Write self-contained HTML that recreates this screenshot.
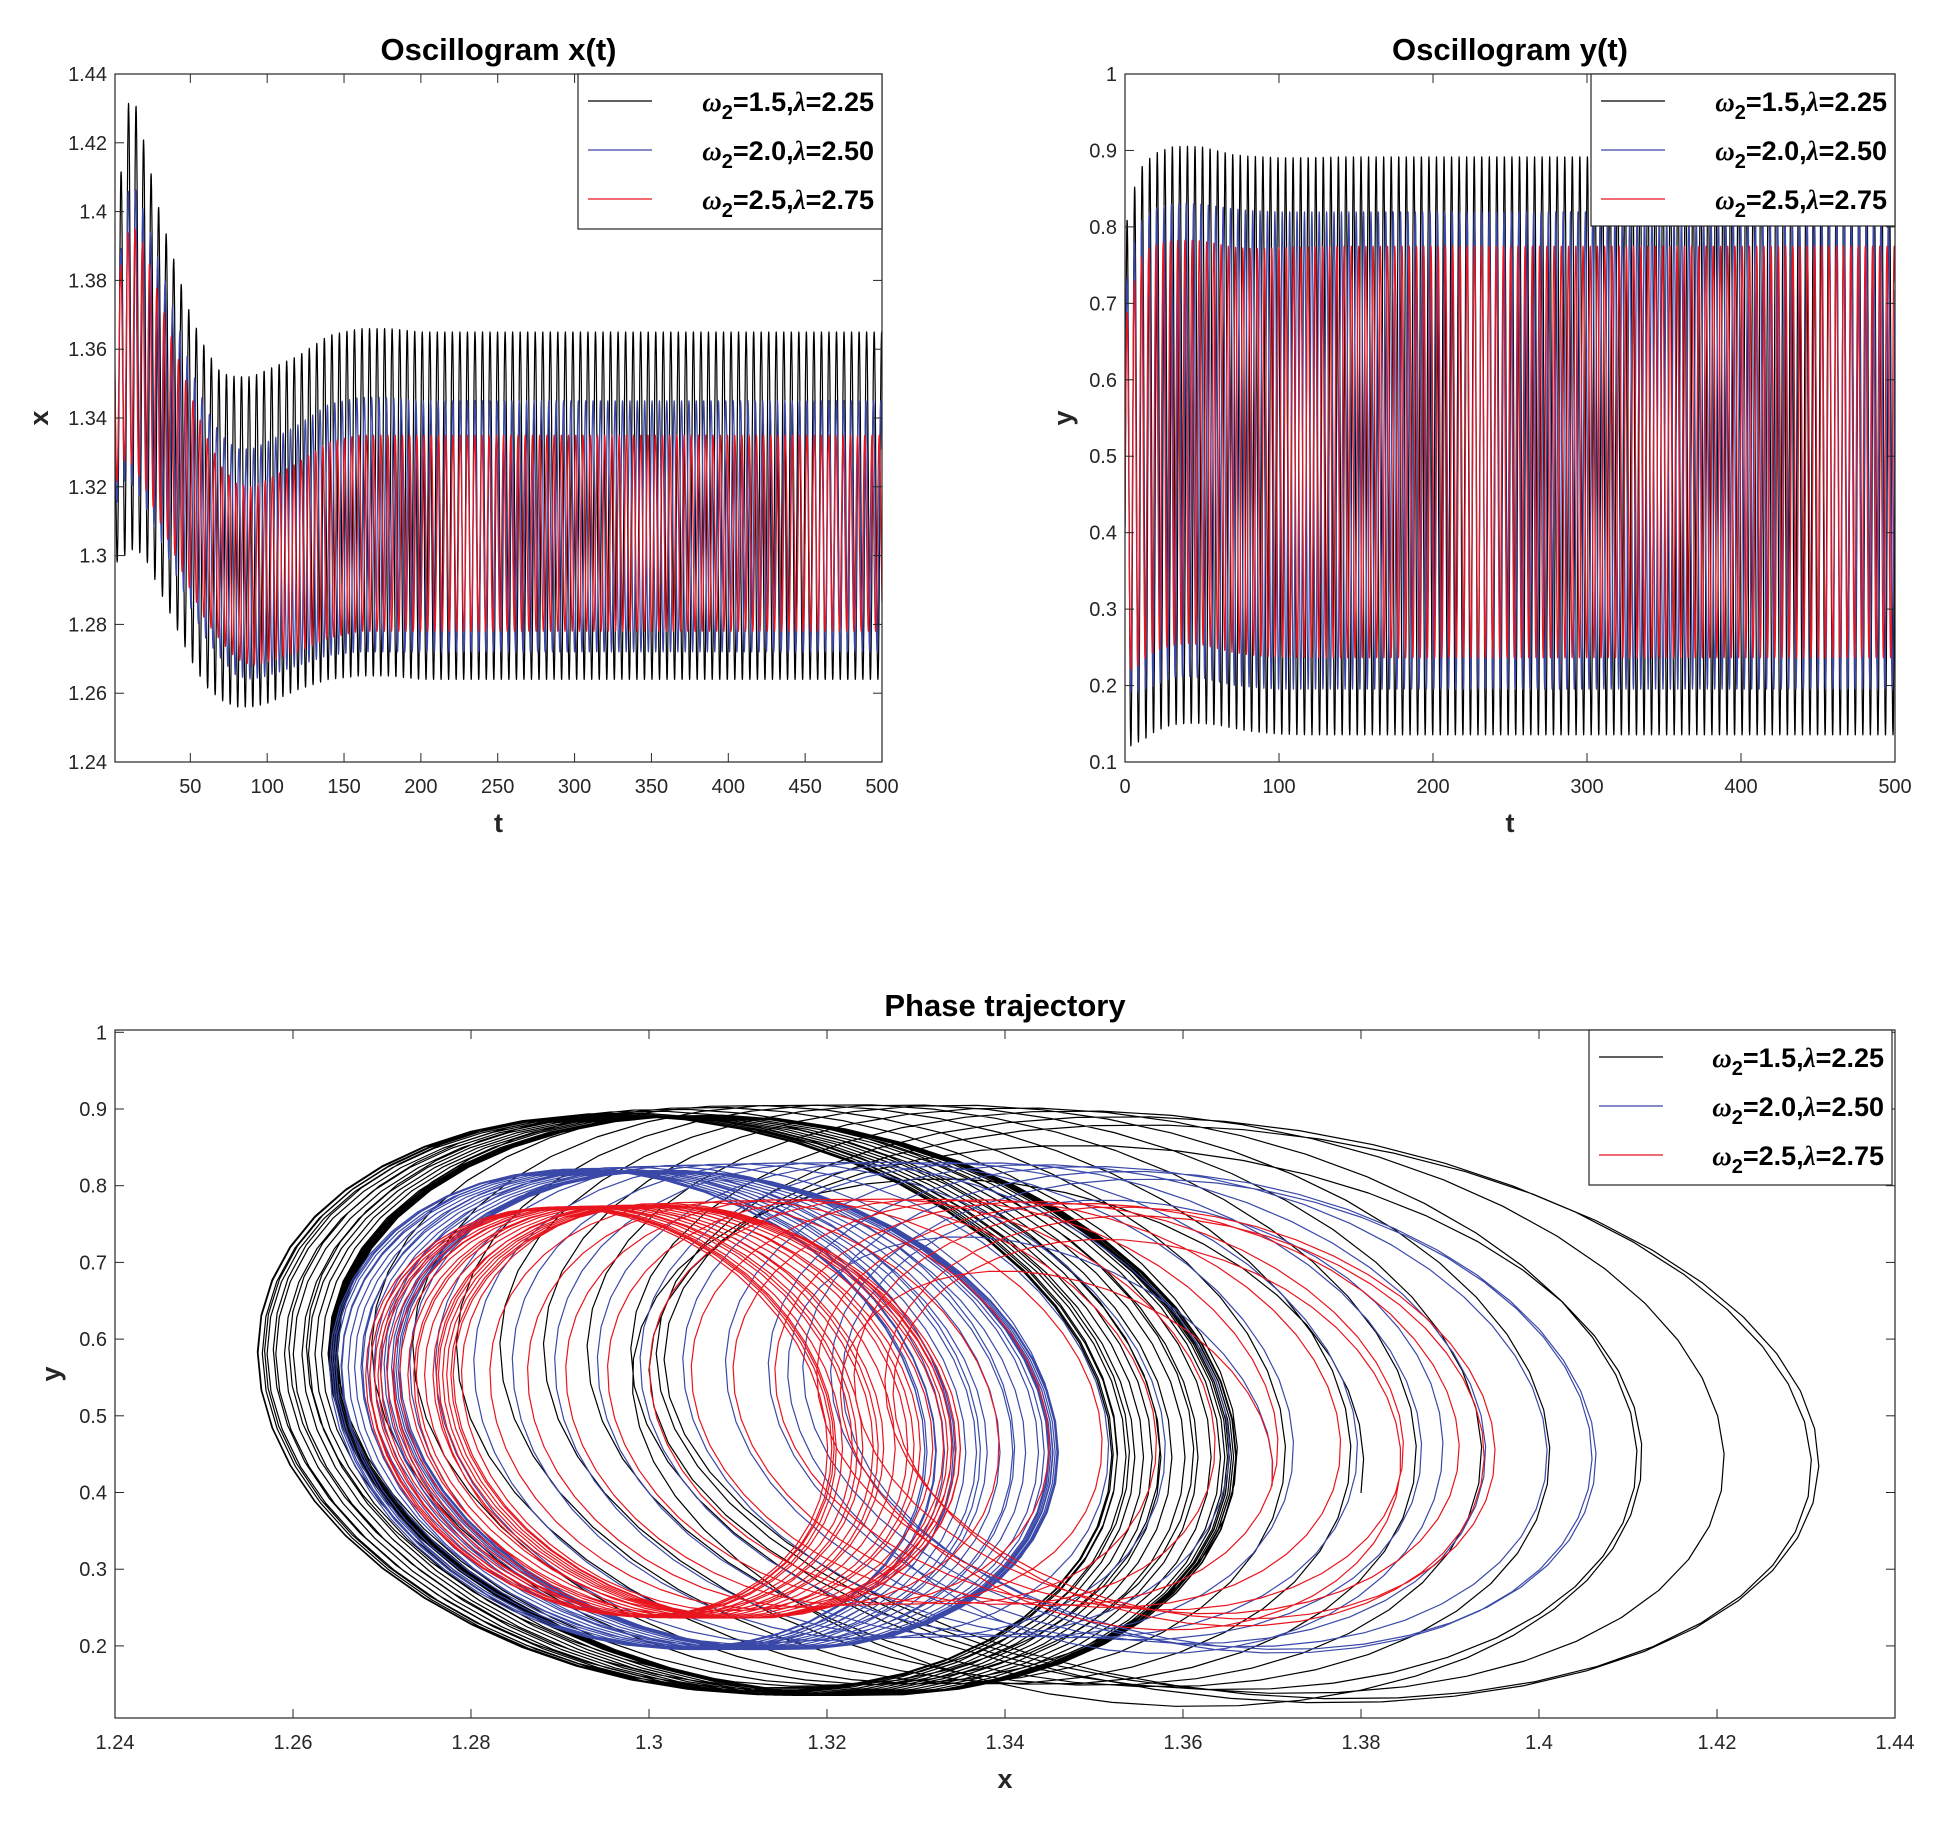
<!DOCTYPE html>
<html><head><meta charset="utf-8"><style>
html,body{margin:0;padding:0;background:#fff}
svg text{font-family:"Liberation Sans",sans-serif}
.tk{font-size:20px;fill:#262626}
.ttl{font-size:31px;font-weight:bold;fill:#000}
.lab{font-size:27px;font-weight:bold;fill:#262626}
.lg{font-size:27px;font-weight:bold;fill:#000}
</style></head><body>
<svg id="fig" width="1942" height="1819" viewBox="0 0 1942 1819" xmlns="http://www.w3.org/2000/svg"></svg>
<script>
const tKnots=[0,3,8,13,20,30,40,50,60,70,80,90,100,120,140,160,180,200,250,500];
const blackXHi=[1.38,1.40,1.43,1.434,1.42,1.40,1.385,1.37,1.36,1.353,1.352,1.352,1.354,1.358,1.364,1.366,1.366,1.365,1.365,1.365];
const blackXLo=[1.29,1.30,1.30,1.302,1.30,1.29,1.28,1.27,1.262,1.258,1.256,1.256,1.257,1.261,1.264,1.265,1.265,1.264,1.264,1.264];
const blueXHi=[1.37,1.38,1.405,1.408,1.40,1.385,1.37,1.355,1.343,1.335,1.331,1.331,1.333,1.338,1.344,1.346,1.346,1.345,1.345,1.345];
const blueXLo=[1.30,1.32,1.322,1.32,1.315,1.305,1.295,1.285,1.276,1.27,1.265,1.264,1.265,1.268,1.271,1.272,1.272,1.272,1.272,1.272];
const redXHi=[1.37,1.38,1.393,1.396,1.39,1.375,1.36,1.347,1.335,1.326,1.321,1.32,1.322,1.327,1.333,1.335,1.335,1.335,1.335,1.335];
const redXLo=[1.31,1.325,1.328,1.326,1.32,1.31,1.30,1.29,1.281,1.275,1.27,1.268,1.269,1.272,1.276,1.278,1.278,1.278,1.278,1.278];
const blackYHi=[0.8,0.82,0.87,0.885,0.897,0.905,0.906,0.905,0.9,0.895,0.893,0.892,0.891,0.891,0.892,0.892,0.892,0.892,0.892,0.892];
const blackYLo=[0.12,0.12,0.125,0.13,0.14,0.148,0.15,0.15,0.148,0.144,0.14,0.138,0.136,0.135,0.135,0.135,0.135,0.135,0.135,0.135];
const blueYHi=[0.72,0.75,0.8,0.815,0.825,0.83,0.831,0.83,0.827,0.824,0.822,0.821,0.82,0.82,0.82,0.82,0.82,0.82,0.82,0.82];
const blueYLo=[0.19,0.19,0.19,0.195,0.2,0.21,0.212,0.21,0.205,0.2,0.198,0.196,0.195,0.195,0.195,0.195,0.195,0.195,0.195,0.195];
const redYHi=[0.68,0.7,0.75,0.77,0.777,0.782,0.783,0.782,0.778,0.774,0.772,0.772,0.773,0.774,0.775,0.775,0.775,0.775,0.775,0.775];
const redYLo=[0.22,0.22,0.225,0.235,0.245,0.252,0.255,0.253,0.248,0.243,0.24,0.238,0.237,0.236,0.236,0.236,0.236,0.236,0.236,0.236];
const periods=[4.9,4.8,4.7];
const seriesNames=["black","blue","red"];
const seriesColors=["#000000","#3a48a8","#e8141e"];
const legendParams=[["1.5","2.25"],["2.0","2.50"],["2.5","2.75"]];
const ticksX1=[50,100,150,200,250,300,350,400,450,500];
const ticksY1=[1.24,1.26,1.28,1.3,1.32,1.34,1.36,1.38,1.4,1.42,1.44];
const ticksX2=[0,100,200,300,400,500];
const ticksY2=[0.1,0.2,0.3,0.4,0.5,0.6,0.7,0.8,0.9,1];
const ticksX3=[1.24,1.26,1.28,1.3,1.32,1.34,1.36,1.38,1.4,1.42,1.44];
const ticksY3=[0.2,0.3,0.4,0.5,0.6,0.7,0.8,0.9,1];

const NS="http://www.w3.org/2000/svg";
const svg=document.getElementById('fig');
function mk(tag,attrs,parent){const e=document.createElementNS(NS,tag);for(const k in attrs)e.setAttribute(k,attrs[k]);(parent||svg).appendChild(e);return e;}
function interp(t,vals){for(let i=1;i<tKnots.length;i++){if(t<=tKnots[i]){const f=(t-tKnots[i-1])/(tKnots[i]-tKnots[i-1]);return vals[i-1]+f*(vals[i]-vals[i-1]);}}return vals[vals.length-1];}
const env=[[blackXHi,blackXLo,blackYHi,blackYLo],[blueXHi,blueXLo,blueYHi,blueYLo],[redXHi,redXLo,redYHi,redYLo]];
const PHI=1.75;
function sample(s){const P=periods[s],pts=[];const e=env[s];for(let t=0;t<=500;t+=P/48){const th=2*Math.PI*t/P;const xh=interp(t,e[0]),xl=interp(t,e[1]),yh=interp(t,e[2]),yl=interp(t,e[3]);pts.push([t,(xh+xl)/2+(xh-xl)/2*Math.cos(th),(yh+yl)/2+(yh-yl)/2*Math.cos(th-PHI)]);}return pts;}
const data=[0,1,2].map(sample);

function axes(cfg){
  const g=mk('g',{});
  
  
  const sx=v=>cfg.L+(v-cfg.xd[0])/(cfg.xd[1]-cfg.xd[0])*(cfg.R-cfg.L);
  const sy=v=>cfg.B-(v-cfg.yd[0])/(cfg.yd[1]-cfg.yd[0])*(cfg.B-cfg.T);
  const cid='c'+cfg.name;
  const cp=mk('clipPath',{id:cid},g);mk('rect',{x:cfg.L,y:cfg.T,width:cfg.R-cfg.L,height:cfg.B-cfg.T},cp);
  const plot=mk('g',{'clip-path':'url(#'+cid+')'},g);
  for(let s=0;s<3;s++){
    const d=data[s].map((p,i)=>(i?'L':'M')+sx(cfg.fx(p)).toFixed(1)+' '+sy(cfg.fy(p)).toFixed(1)).join('');
    const path=mk('path',{d:d,fill:'none',stroke:seriesColors[s],'stroke-width':1.2,'stroke-linejoin':'round'},plot);
    
    
  }
  mk('rect',{x:cfg.L,y:cfg.T,width:cfg.R-cfg.L,height:cfg.B-cfg.T,fill:'none',stroke:'#262626','stroke-width':1.2},g);
  cfg.tx.forEach(v=>{const x=sx(v);mk('line',{x1:x,x2:x,y1:cfg.B,y2:cfg.B-9,stroke:'#262626'},g);mk('line',{x1:x,x2:x,y1:cfg.T,y2:cfg.T+9,stroke:'#262626'},g);
    const t=mk('text',{x:x,y:cfg.B+31,'text-anchor':'middle',class:'tk'},g);t.textContent=String(v);
    });
  cfg.ty.forEach(v=>{const y=sy(v);mk('line',{x1:cfg.L,x2:cfg.L+9,y1:y,y2:y,stroke:'#262626'},g);mk('line',{x1:cfg.R,x2:cfg.R-9,y1:y,y2:y,stroke:'#262626'},g);
    const t=mk('text',{x:cfg.L-8,y:y+7,'text-anchor':'end',class:'tk'},g);t.textContent=String(v);
    });
  const ti=mk('text',{x:(cfg.L+cfg.R)/2,y:cfg.T-14,'text-anchor':'middle',class:'ttl'},g);ti.textContent=cfg.title;
  
  const xl=mk('text',{x:(cfg.L+cfg.R)/2,y:cfg.B+70,'text-anchor':'middle',class:'lab'},g);xl.textContent=cfg.xl;
  
  const yl=mk('text',{x:cfg.ylx,y:(cfg.T+cfg.B)/2,'text-anchor':'middle',class:'lab',transform:'rotate(-90 '+cfg.ylx+' '+(cfg.T+cfg.B)/2+')'},g);yl.textContent=cfg.yl;
  
  const lg=mk('g',{},g);
  
  const lw=cfg.lg[2],lh=cfg.lg[3];
  mk('rect',{x:cfg.lg[0],y:cfg.lg[1],width:lw,height:lh,fill:'#fff',stroke:'#262626','stroke-width':1.2},lg);
  for(let s=0;s<3;s++){
    const yy=cfg.lg[1]+27+s*49;
    const e=mk('g',{},lg);
    
    mk('line',{x1:cfg.lg[0]+10,x2:cfg.lg[0]+74,y1:yy,y2:yy,stroke:seriesColors[s],'stroke-width':1.3},e);
    const t=mk('text',{x:cfg.lg[0]+lw-8,y:yy+10,'text-anchor':'end',class:'lg'},e);
    t.innerHTML='<tspan font-style="italic" font-family="Liberation Serif, serif">ω</tspan><tspan dy="8" font-size="20">2</tspan><tspan dy="-8">='+legendParams[s][0]+',</tspan><tspan font-style="italic" font-family="Liberation Serif, serif">λ</tspan><tspan>='+legendParams[s][1]+'</tspan>';
  }
}
axes({name:'oscillogram-x',L:115,R:882,T:74,B:762,xd:[1,500],yd:[1.24,1.44],fx:p=>p[0],fy:p=>p[1],tx:ticksX1,ty:ticksY1,title:'Oscillogram x(t)',xl:'t',yl:'x',ylx:48,lg:[578,74,304,155]});
axes({name:'oscillogram-y',L:1125,R:1895,T:74,B:762,xd:[0,500],yd:[0.1,1],fx:p=>p[0],fy:p=>p[2],tx:ticksX2,ty:ticksY2,title:'Oscillogram y(t)',xl:'t',yl:'y',ylx:1072,lg:[1591,74,304,152]});
axes({name:'phase-trajectory',L:115,R:1895,T:1030,B:1718,xd:[1.24,1.44],yd:[0.106,1.003],fx:p=>p[1],fy:p=>p[2],tx:ticksX3,ty:ticksY3,title:'Phase trajectory',xl:'x',yl:'y',ylx:60,lg:[1589,1030,303,155]});
</script>
</body></html>
